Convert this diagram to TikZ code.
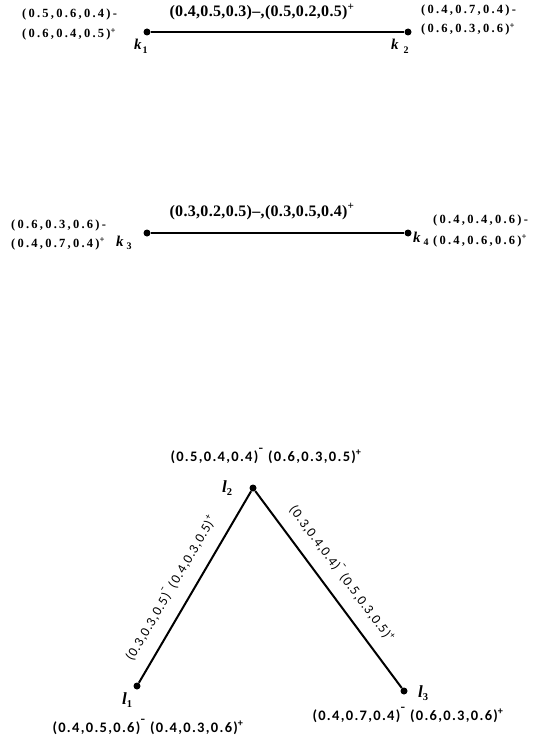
\documentclass[tikz,border=0pt]{standalone}
\usepackage{graphicx}
\usepackage{fontspec}
\setmainfont{Liberation Serif}
\newfontfamily\trackedserif[LetterSpace=18]{Liberation Serif}
\newfontfamily\pairserif[LetterSpace=2]{Liberation Serif}
\newfontfamily\calib[LetterSpace=9]{Carlito}
\newfontfamily\calibslope[LetterSpace=6]{Carlito}

% superscript signs used in the labels
\newcommand\supplus{\textsuperscript{+}}
\newcommand\supbar{\raisebox{1.25ex}{\scalebox{0.7}[0.9]{–}}}
% vertex names
\newcommand\kname[2]{\textbf{\textit{k}}\hspace{#2}\raisebox{-0.45ex}{\fontsize{10}{10}\selectfont\bfseries #1}}
\newcommand\lname[1]{\textbf{\textit{l}}\raisebox{-0.5ex}{\fontsize{10.5}{10.5}\selectfont\bfseries #1}}

\tikzset{
  vertex/.style={circle, fill=black, inner sep=0pt, minimum size=7pt},
  pairedge/.style={line width=2.2pt},
  triedge/.style={line width=2pt},
  tagtext/.style={font=\trackedserif\bfseries\fontsize{12.5}{14}\selectfont, inner sep=0pt, anchor=base west},
  pairtext/.style={font=\pairserif\bfseries\fontsize{16}{18}\selectfont, inner sep=0pt, anchor=base},
  nametext/.style={font=\fontsize{15}{17}\selectfont, inner sep=0pt, anchor=base west},
  lnametext/.style={font=\fontsize{17}{19}\selectfont, inner sep=0pt, anchor=base west},
  tritext/.style={font=\calib\bfseries\fontsize{14.5}{16}\selectfont, inner sep=0pt, anchor=base},
  slopetext/.style={font=\calibslope\fontsize{13.5}{15}\selectfont, inner sep=0pt, sloped},
}

\begin{document}
\begin{tikzpicture}[x=1pt, y=-1pt]
\useasboundingbox (0,0) rectangle (545,749);

% ---- k1 -- k2 ----
\node[vertex] (k1) at (147,32) {};
\node[vertex] (k2) at (408,32) {};
\draw[pairedge] (k1) -- (k2);
\node[pairtext] (e12) at (262,17) {(0.4,0.5,0.3)–,(0.5,0.2,0.5)\supplus};
\node[tagtext] (k1a) at (22,18) {(0.5,0.6,0.4)-};
\node[tagtext] (k1b) at (22,38) {(0.6,0.4,0.5)\supplus};
\node[nametext] (k1n) at (134,50) {\kname{1}{1pt}};
\node[tagtext] (k2a) at (421,14) {(0.4,0.7,0.4)-};
\node[tagtext] (k2b) at (421,33) {(0.6,0.3,0.6)\supplus};
\node[nametext] (k2n) at (391,50) {\kname{2}{5pt}};

% ---- k3 -- k4 ----
\node[vertex] (k3) at (147,233) {};
\node[vertex] (k4) at (408,233) {};
\draw[pairedge] (k3) -- (k4);
\node[pairtext] (e34) at (262,216) {(0.3,0.2,0.5)–,(0.3,0.5,0.4)\supplus};
\node[tagtext] (k3a) at (11,228) {(0.6,0.3,0.6)-};
\node[tagtext] (k3b) at (11,247) {(0.4,0.7,0.4)\supplus};
\node[nametext] (k3n) at (116,246) {\kname{3}{3pt}};
\node[nametext] (k4n) at (413,242) {\kname{4}{3pt}};
\node[tagtext] (k4a) at (433,223) {(0.4,0.4,0.6)-};
\node[tagtext] (k4b) at (433,244) {(0.4,0.6,0.6)\supplus};

% ---- l1, l2, l3 ----
\node[vertex] (l1) at (137,686) {};
\node[vertex] (l2) at (253,488) {};
\node[vertex] (l3) at (404,691) {};
\draw[triedge] (l1) -- node[slopetext, above=13pt, pos=0.44] (e12l) {(0.3,0.3,0.5)\supbar\ (0.4,0.3,0.5)\supplus} (l2);
\draw[triedge] (l2) -- node[slopetext, above=13pt, pos=0.48] (e23l) {(0.3,0.4,0.4)\supbar\ (0.5,0.3,0.5)\supplus} (l3);
\node[lnametext] (l2n) at (222,492) {\lname{2}};
\node[lnametext] (l1n) at (122,704) {\lname{1}};
\node[lnametext] (l3n) at (418,697) {\lname{3}};
\node[tritext] (l2t) at (266,461) {(0.5,0.4,0.4)\supbar\ (0.6,0.3,0.5)\supplus};
\node[tritext] (l1t) at (148,732) {(0.4,0.5,0.6)\supbar\ (0.4,0.3,0.6)\supplus};
\node[tritext] (l3t) at (408,720) {(0.4,0.7,0.4)\supbar\ (0.6,0.3,0.6)\supplus};
\end{tikzpicture}
\end{document}
